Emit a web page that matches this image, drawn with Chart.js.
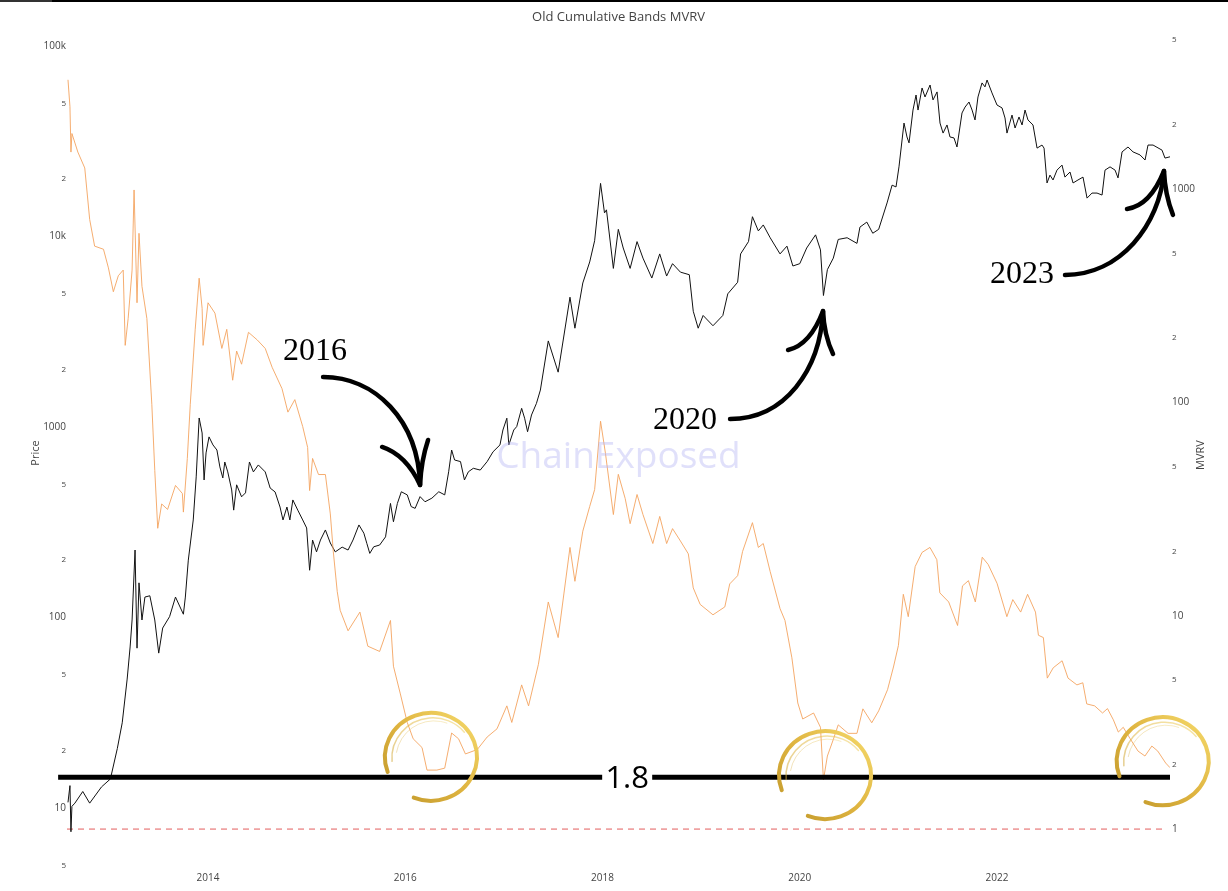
<!DOCTYPE html>
<html lang="en">
<head>
<meta charset="UTF-8">
<title>Old Cumulative Bands MVRV</title>
<script src="https://cdn.jsdelivr.net/npm/chart.js"></script>
<style>
  html, body { margin: 0; padding: 0; background: #fff; }
  #chart { display: block; }
</style>
</head>
<body>
<canvas id="chart" width="1228" height="891"></canvas>
<script>
// values, dates as decimal years
const priceDates = [
  2012.58, 2012.60, 2012.61, 2012.62, 2012.65, 2012.73, 2012.80, 2012.92, 2013.01, 2013.08,
  2013.13, 2013.18, 2013.21, 2013.23, 2013.26, 2013.28, 2013.30, 2013.33, 2013.36, 2013.41,
  2013.46, 2013.50, 2013.54, 2013.61, 2013.67, 2013.75, 2013.77,
  2013.80, 2013.85, 2013.88, 2013.91, 2013.94, 2013.96, 2013.98, 2014.01, 2014.05, 2014.09,
  2014.12, 2014.15, 2014.17, 2014.20, 2014.24, 2014.26, 2014.29, 2014.34, 2014.38, 2014.42,
  2014.46, 2014.51, 2014.58, 2014.63, 2014.68, 2014.73, 2014.76, 2014.80, 2014.83, 2014.86,
  2014.91, 2014.96, 2015.00, 2015.03, 2015.06, 2015.10, 2015.14, 2015.19, 2015.24, 2015.29,
  2015.36, 2015.42,
  2015.47, 2015.53, 2015.58, 2015.61, 2015.64, 2015.68, 2015.74, 2015.80, 2015.85, 2015.88,
  2015.92, 2015.96, 2016.02, 2016.06, 2016.10, 2016.15, 2016.20, 2016.27, 2016.34, 2016.40,
  2016.44, 2016.47, 2016.50, 2016.56, 2016.60, 2016.64, 2016.69, 2016.76, 2016.83, 2016.89,
  2016.96, 2016.99, 2017.03, 2017.05, 2017.10, 2017.13, 2017.18, 2017.21, 2017.24, 2017.28,
  2017.33, 2017.37,
  2017.45, 2017.55, 2017.67, 2017.72, 2017.80, 2017.87, 2017.92, 2017.98, 2018.02, 2018.04,
  2018.11, 2018.16, 2018.21, 2018.28, 2018.35, 2018.41, 2018.50, 2018.58, 2018.65, 2018.71,
  2018.79, 2018.88, 2018.92, 2018.97, 2019.02, 2019.12, 2019.22, 2019.27, 2019.37, 2019.40,
  2019.48, 2019.52, 2019.58, 2019.63, 2019.70, 2019.80, 2019.87, 2019.93, 2020.00, 2020.07,
  2020.16, 2020.21, 2020.24, 2020.28, 2020.34, 2020.39, 2020.48, 2020.58, 2020.61, 2020.68,
  2020.74, 2020.80,
  2020.885, 2020.936, 2020.976, 2021.006, 2021.057, 2021.087, 2021.108, 2021.148, 2021.179, 2021.199,
  2021.240, 2021.270, 2021.321, 2021.351, 2021.392, 2021.422, 2021.453, 2021.493, 2021.523, 2021.564,
  2021.594, 2021.645, 2021.676, 2021.716, 2021.747, 2021.777, 2021.807, 2021.848, 2021.878, 2021.899,
  2021.949, 2022.000, 2022.051, 2022.081, 2022.101, 2022.152, 2022.183, 2022.223, 2022.254, 2022.284,
  2022.314, 2022.365, 2022.406, 2022.456, 2022.477, 2022.507, 2022.537, 2022.568, 2022.608, 2022.659,
  2022.689, 2022.740, 2022.771, 2022.821, 2022.872, 2022.913, 2022.963, 2023.014, 2023.065, 2023.095,
  2023.146, 2023.197, 2023.227, 2023.268, 2023.328, 2023.379, 2023.450, 2023.501, 2023.531, 2023.582,
  2023.673, 2023.703, 2023.754
];
const priceValues = [
  10.7, 13.1, 7.5, 10.2, 10.6, 12.2, 10.6, 12.9, 14.2, 20.5,
  28, 47.5, 70, 97, 226, 69, 152, 97, 128, 130,
  97, 65, 88, 101, 128, 104, 128,
  200, 325, 547, 1115, 930, 527, 731, 887, 805, 757,
  617, 540, 655, 581, 467, 366, 497, 430, 451, 655,
  581, 632, 581, 478, 456, 380, 325, 380, 325, 414,
  366, 325, 295, 177, 255, 221, 255, 288, 246, 221,
  234, 226,
  255, 306, 277, 245, 217, 235, 240, 265, 397, 318,
  397, 457, 440, 382, 374, 431, 405, 423, 457, 440,
  582, 757, 671, 658, 527, 582, 607, 594, 658, 741,
  805, 964, 1112, 805, 964, 1005, 1253, 1112, 944, 1156,
  1330, 1563,
  2830, 1940, 4800, 3300, 5700, 7350, 9500, 19000, 13300, 13800,
  6800, 10900, 8700, 6800, 9400, 7700, 6050, 8100, 6200, 7200,
  6500, 6300, 4050, 3300, 3850, 3400, 3850, 5000, 5750, 8100,
  9400, 12700, 10700, 11500, 9850, 8100, 8900, 7000, 7200, 8700,
  10200, 8500, 4900, 6700, 7700, 9650, 9850, 9200, 11200, 11900,
  10400, 10900,
  15000, 18600, 18200, 23200, 39400, 33300, 31000, 46100, 55300, 46100,
  60200, 54000, 62400, 52100, 57400, 39400, 34900, 38500, 33300, 32900,
  29500, 44500, 47800, 50800, 46100, 40900, 54000, 64000, 61000, 66300,
  56700, 49000, 47300, 41900, 34900, 43400, 37100, 42400, 38500, 46100,
  40900, 38500, 29100, 30200, 29100, 19100, 21000, 19800, 22300, 23700,
  20500, 21800, 19100, 19800, 20500, 15900, 16900, 16900, 16500, 22300,
  23200, 22300, 20300, 27800, 29500, 27800, 26800, 25200, 30200, 30200,
  28400, 25800, 26200
];

const mvrvDates = [
  2012.58, 2012.60, 2012.61, 2012.62, 2012.68, 2012.75, 2012.80, 2012.85, 2012.94, 2012.99,
  2013.04, 2013.09, 2013.14, 2013.16, 2013.19, 2013.23, 2013.25, 2013.28, 2013.30, 2013.33,
  2013.38, 2013.43, 2013.46, 2013.49, 2013.53, 2013.59, 2013.67, 2013.74, 2013.75, 2013.79,
  2013.82, 2013.87, 2013.91, 2013.94, 2013.95, 2014.00, 2014.07, 2014.14, 2014.19, 2014.25,
  2014.29, 2014.34, 2014.41, 2014.50, 2014.58, 2014.65, 2014.75, 2014.81, 2014.88, 2014.96,
  2015.01, 2015.03, 2015.06, 2015.12, 2015.19, 2015.24, 2015.27, 2015.31, 2015.34, 2015.42,
  2015.54, 2015.62, 2015.74, 2015.85, 2015.88, 2015.95, 2016.02, 2016.08, 2016.17, 2016.22,
  2016.32, 2016.40, 2016.47, 2016.54, 2016.61, 2016.73, 2016.83, 2016.93, 2017.03, 2017.08,
  2017.18, 2017.25, 2017.35, 2017.45, 2017.55, 2017.67, 2017.72, 2017.80, 2017.87, 2017.92,
  2017.98, 2018.03, 2018.11, 2018.16, 2018.23, 2018.28, 2018.35, 2018.41, 2018.51, 2018.58,
  2018.65, 2018.71, 2018.79, 2018.87, 2018.92, 2018.99, 2019.12, 2019.24, 2019.29, 2019.37,
  2019.42, 2019.52, 2019.58, 2019.63, 2019.70, 2019.80, 2019.85, 2019.92, 2019.98, 2020.03,
  2020.14, 2020.21, 2020.24, 2020.28, 2020.34, 2020.39, 2020.49, 2020.58, 2020.64, 2020.73,
  2020.80, 2020.89, 2020.95, 2021.00, 2021.05, 2021.10, 2021.17, 2021.24, 2021.32, 2021.39,
  2021.42, 2021.51, 2021.60, 2021.65, 2021.71, 2021.78, 2021.85, 2021.91, 2022.00, 2022.10,
  2022.16, 2022.24, 2022.31, 2022.39, 2022.42, 2022.47, 2022.51, 2022.57, 2022.66, 2022.72,
  2022.81, 2022.87, 2022.91, 2022.99, 2023.07, 2023.12, 2023.18, 2023.23, 2023.28, 2023.35,
  2023.43, 2023.50, 2023.57, 2023.63, 2023.71, 2023.754
];
const mvrvValues = [
  3250, 2430, 1490, 1820, 1490, 1255, 720, 540, 522, 427,
  330, 392, 417, 185, 247, 417, 990, 293, 620, 350,
  247, 98, 48, 25.7, 33.4, 31.5, 40.8, 37.4, 30.6, 54.6,
  98, 220, 382, 276, 185, 293, 262, 179, 220, 127,
  174, 151, 213, 196, 179, 146, 116, 90, 103, 77,
  61.5, 38.6, 54.6, 45.9, 45.9, 30, 20, 13, 10.6, 8.5,
  10.4, 7.2, 6.8, 9.5, 5.8, 4.3, 3.16, 2.65, 2.41, 1.89,
  1.89, 1.93, 2.82, 2.65, 2.25, 2.36, 2.7, 2.95, 3.78, 3.16,
  4.74, 3.78, 5.92, 11.6, 7.9, 20.9, 14.5, 24.9, 32.5, 39,
  81.6, 57.6, 29.8, 46, 35.4, 27, 37, 29.8, 21.8, 29.2,
  21.8, 25.6, 22.4, 19.5, 13.5, 11.3, 10.1, 11, 14.1, 15.4,
  20, 27.3, 20.9, 21.8, 16.1, 10.8, 9.5, 6.35, 3.9, 3.28,
  3.5, 3.0, 1.7, 2.2, 2.63, 3.08, 2.81, 2.81, 3.66, 3.15,
  3.58, 4.5, 5.75, 7.25, 12.6, 9.9, 17, 19.8, 20.9, 18.3,
  12.8, 11.6, 9.0, 13.8, 14.6, 11.6, 18.8, 17.4, 14.2, 9.9,
  11.9, 10.4, 12.6, 10.4, 8.1, 7.9, 5.1, 5.7, 6.15, 5.1,
  4.74, 4.85, 3.86, 3.78, 3.5, 3.67, 3.25, 2.85, 3.0, 2.65,
  2.32, 2.2, 2.45, 2.32, 2.04, 1.94
];

const yearTicks = [2014, 2016, 2018, 2020, 2022];
const priceTicks = [5, 10, 20, 50, 100, 200, 500, 1000, 2000, 5000, 10000, 20000, 50000, 100000];
const mvrvTicks = [1, 2, 5, 10, 20, 50, 100, 200, 500, 1000, 2000, 5000];

const bandLevel = 1.75;    // where the thick line sits on the MVRV axis
const bandLabel = '1.8';
const baseLevel = 1;       // red dashed line
const calloutLabels = ['2016', '2020', '2023'];
const calloutYears = [2016.15, 2020.236, 2023.693];
const calloutPrices = [496, 4064, 22080];
const ringYears = [2016.26, 2020.256, 2023.68];
const ringMvrv = [2.18, 1.79, 2.08];

const xMin = 2012.57, xMax = 2023.754;
const FONT = '"Open Sans", "DejaVu Sans", sans-serif';

function isDecade(v) {
  const e = Math.log10(v);
  return Math.abs(e - Math.round(e)) < 1e-9;
}
function logLabel(v, useK) {
  if (isDecade(v)) return (useK && v >= 10000) ? (v / 1000) + 'k' : String(v);
  return String(Math.round(v / Math.pow(10, Math.floor(Math.log10(v)))));
}
function tickFont(c) {
  const major = c.tick && isDecade(c.tick.value);
  return { family: FONT, size: major ? 10 : 8 };
}

// arrow shapes as pixel offsets from the tip: start, cp1, cp2, left barb (start, ctrl), right barb (end, ctrl)
const arrowShapes = [
  { s: [-97, -108], c1: [-45, -108], c2: [-2, -65], lb: [-38, -38], lc: [-14, -30], rb: [8, -45], rc: [1, -24], text: [-137, -125] },
  { s: [-93, 108], c1: [-38, 108], c2: [-3, 59], lb: [-35, 39], lc: [-13, 34], rb: [10, 43], rc: [1, 24], text: [-170, 118] },
  { s: [-99, 104], c1: [-44, 104], c2: [-4, 54], lb: [-37, 38], lc: [-14, 35], rb: [9, 44], rc: [1, 24], text: [-174, 112] }
];

function drawRing(ctx, cx, cy) {
  const g = ctx.createLinearGradient(cx + 40, cy - 40, cx - 40, cy + 40);
  g.addColorStop(0, '#f3d667');
  g.addColorStop(0.5, '#dfb440');
  g.addColorStop(1, '#c39a2c');
  const a0 = 160 * Math.PI / 180, a1 = (112 + 360) * Math.PI / 180;
  ctx.strokeStyle = g;
  ctx.lineCap = 'round';
  ctx.lineWidth = 4;
  ctx.beginPath();
  ctx.ellipse(cx, cy, 46, 44, 0, a0, a1);
  ctx.stroke();
  ctx.globalAlpha = 0.55;
  ctx.lineWidth = 1.5;
  ctx.beginPath();
  ctx.ellipse(cx + 2, cy + 1, 41, 40, 0, 175 * Math.PI / 180, 320 * Math.PI / 180);
  ctx.stroke();
  ctx.globalAlpha = 0.35;
  ctx.lineWidth = 1;
  ctx.beginPath();
  ctx.ellipse(cx + 3, cy + 2, 38, 38, 0, 190 * Math.PI / 180, 290 * Math.PI / 180);
  ctx.stroke();
  ctx.globalAlpha = 1;
}

const overlay = {
  id: 'overlay',
  afterDatasetsDraw(chart) {
    const { ctx, chartArea: a, scales } = chart;
    const xs = scales.x, yp = scales.y, ym = scales.y2;
    ctx.save();

    // watermark
    ctx.font = '37px ' + FONT;
    ctx.fillStyle = 'rgba(180,180,242,0.42)';
    ctx.textAlign = 'center';
    ctx.textBaseline = 'middle';
    ctx.fillText('ChainExposed', (a.left + a.right) / 2, (a.top + a.bottom) / 2 + 9);

    // 1.8 band line
    const by = ym.getPixelForValue(bandLevel);
    ctx.strokeStyle = '#000';
    ctx.lineWidth = 5;
    ctx.lineCap = 'butt';
    ctx.beginPath();
    ctx.moveTo(xs.getPixelForValue(2012.48), by);
    ctx.lineTo(xs.getPixelForValue(xMax), by);
    ctx.stroke();
    const tx = xs.getPixelForValue(2018.25);
    ctx.fillStyle = '#fff';
    ctx.fillRect(tx - 25, by - 4, 50, 8);
    ctx.fillStyle = '#000';
    ctx.font = '31px ' + FONT;
    ctx.textBaseline = 'alphabetic';
    ctx.fillText(bandLabel, tx, by + 11);

    // gold rings
    ringYears.forEach((yr, i) => drawRing(ctx, xs.getPixelForValue(yr), ym.getPixelForValue(ringMvrv[i])));

    // arrows and year labels
    ctx.strokeStyle = '#000';
    ctx.fillStyle = '#000';
    ctx.lineWidth = 4.5;
    ctx.lineCap = 'round';
    ctx.lineJoin = 'round';
    ctx.textAlign = 'left';
    ctx.font = '32px "Liberation Serif", "DejaVu Serif", serif';
    calloutYears.forEach((yr, i) => {
      const px = xs.getPixelForValue(yr), py = yp.getPixelForValue(calloutPrices[i]);
      const s = arrowShapes[i];
      const P = (o) => [px + o[0], py + o[1]];
      ctx.beginPath();
      ctx.moveTo(...P(s.s));
      ctx.bezierCurveTo(...P(s.c1), ...P(s.c2), px, py);
      ctx.stroke();
      ctx.beginPath();
      ctx.moveTo(...P(s.lb));
      ctx.quadraticCurveTo(...P(s.lc), px, py);
      ctx.quadraticCurveTo(...P(s.rc), ...P(s.rb));
      ctx.stroke();
      ctx.fillText(calloutLabels[i], ...P(s.text));
    });
    ctx.restore();
  },
  afterDraw(chart) {
    const { ctx, chartArea: a } = chart;
    ctx.save();
    ctx.fillStyle = '#333';
    ctx.fillRect(0, 0, 52, 2);
    ctx.fillStyle = '#000';
    ctx.fillRect(52, 0, chart.width - 52, 2);

    ctx.fillStyle = '#444';
    ctx.textAlign = 'center';
    ctx.textBaseline = 'middle';
    ctx.font = '13px ' + FONT;
    ctx.fillText('Old Cumulative Bands MVRV', (a.left + a.right) / 2, 17);

    ctx.font = '11px ' + FONT;
    const mid = (a.top + a.bottom) / 2;
    ctx.translate(36, mid + 5);
    ctx.rotate(-Math.PI / 2);
    ctx.fillText('Price', 0, 0);
    ctx.rotate(Math.PI / 2);
    ctx.translate(1201 - 36, 2);
    ctx.rotate(-Math.PI / 2);
    ctx.fillText('MVRV', 0, 0);
    ctx.restore();
  }
};

const toPoints = (xsArr, ysArr) => xsArr.map((d, i) => ({ x: d, y: ysArr[i] }));

new Chart(document.getElementById('chart'), {
  type: 'line',
  data: {
    datasets: [
      {
        label: 'MVRV',
        data: toPoints(mvrvDates, mvrvValues),
        yAxisID: 'y2',
        borderColor: 'rgba(244,164,96,0.9)',
        borderWidth: 1,
        pointRadius: 0,
        tension: 0
      },
      {
        label: 'Price',
        data: toPoints(priceDates, priceValues),
        yAxisID: 'y',
        borderColor: '#111',
        borderWidth: 1,
        pointRadius: 0,
        tension: 0
      },
      {
        label: 'MVRV 1',
        data: toPoints([xMin, 2023.70], [baseLevel, baseLevel]),
        yAxisID: 'y2',
        borderColor: '#e35d5d',
        borderDash: [6, 5],
        borderWidth: 1,
        pointRadius: 0
      }
    ]
  },
  options: {
    responsive: false,
    animation: false,
    events: [],
    layout: { autoPadding: false, padding: { top: 28, left: 0, right: 0, bottom: 0 } },
    plugins: { legend: { display: false }, tooltip: { enabled: false }, title: { display: false } },
    scales: {
      x: {
        type: 'linear',
        min: xMin,
        max: xMax,
        bounds: 'data',
        grid: { display: false, drawTicks: false },
        border: { display: false },
        ticks: {
          color: '#444',
          font: { family: FONT, size: 10 },
          padding: 4,
          maxRotation: 0,
          autoSkip: false,
          callback: (v) => String(v)
        },
        afterBuildTicks: (s) => { s.ticks = yearTicks.map(v => ({ value: v })); },
        afterFit: (s) => { s.height = 23; }
      },
      y: {
        type: 'logarithmic',
        position: 'left',
        min: 4.84,
        max: 124300,
        grid: { display: false, drawTicks: false },
        border: { display: false },
        ticks: {
          color: '#444',
          font: tickFont,
          padding: 1,
          autoSkip: false,
          callback: (v) => logLabel(v, true)
        },
        afterBuildTicks: (s) => { s.ticks = priceTicks.map(v => ({ value: v })); },
        afterFit: (s) => { s.width = 67; }
      },
      y2: {
        type: 'logarithmic',
        position: 'right',
        min: 0.657,
        max: 5685,
        grid: { display: false, drawTicks: false },
        border: { display: false },
        ticks: {
          color: '#444',
          font: tickFont,
          padding: 2,
          autoSkip: false,
          callback: (v) => logLabel(v, false)
        },
        afterBuildTicks: (s) => { s.ticks = mvrvTicks.map(v => ({ value: v })); },
        afterFit: (s) => { s.width = 58; }
      }
    }
  },
  plugins: [overlay]
});
</script>
</body>
</html>
